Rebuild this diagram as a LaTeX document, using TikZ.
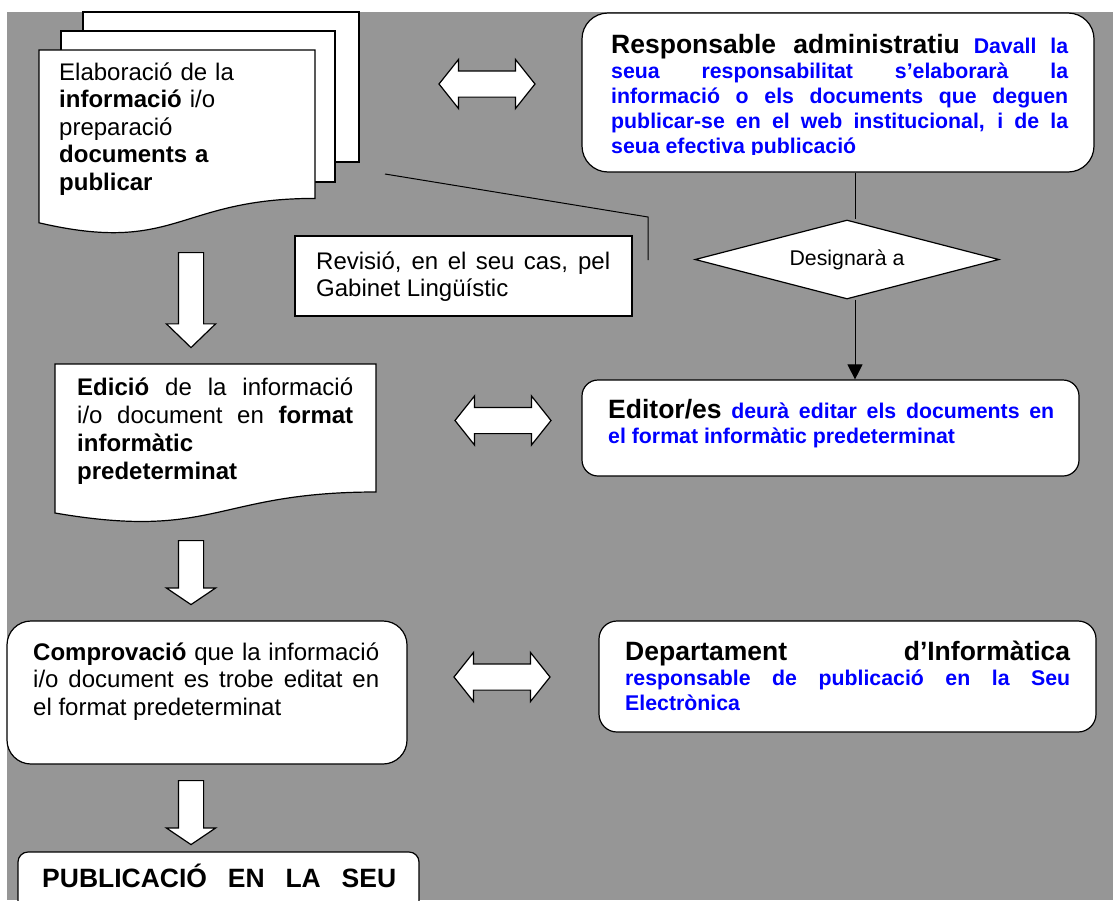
\documentclass[tikz,border=0pt]{standalone}
\usepackage{fontspec}
\setmainfont{Liberation Sans}
\usetikzlibrary{shapes.geometric,shapes.arrows,arrows.meta}
\definecolor{sheetgray}{RGB}{150,150,150}
\definecolor{noteblue}{RGB}{0,0,255}
\newcommand{\headfont}{\fontsize{26.5}{30}\selectfont\bfseries}
\newcommand{\notefont}{\bfseries\color{noteblue}}
\tolerance=10000
\hbadness=10000
\hyphenpenalty=10000
\exhyphenpenalty=10000

\begin{document}
\begin{tikzpicture}[x=1pt, y=-1pt,
    box/.style={draw, fill=white, line width=1.2pt, inner sep=0pt},
    sheet/.style={draw, fill=white, line width=1.2pt},
    link/.style={line width=1pt},
    txt/.style={anchor=base west, inner sep=0pt, align=justify, font=\fontsize{24}{27.6}\selectfont},
    notetxt/.style={txt, font=\fontsize{21.3}{25}\selectfont},
    downarrow/.style={single arrow, draw, fill=white, line width=1.2pt, rotate=-90, anchor=tail, inner sep=0pt, inner ysep=12pt, minimum width=48pt, single arrow head extend=12pt},
    twoway/.style={double arrow, draw, fill=white, line width=1.2pt, inner sep=0pt, inner ysep=12.5pt, minimum height=96pt, minimum width=48pt, double arrow head extend=11.5pt, double arrow tip angle=103},
]
    \useasboundingbox (0,0) rectangle (1113,900);
    \clip (0,0) rectangle (1113,900);
    \fill[white] (0,0) rectangle (1113,900);
    \fill[sheetgray] (7,12) rectangle (1113,900);

    % Stacked documents
    \draw[sheet] (83,12) rectangle (359,162);
    \draw[sheet] (61,31) rectangle (335,182);
    \draw[sheet] (39,50) -- (315,50) -- (315,198.4) .. controls (177,198.4) and (177,254.9) .. (39,222.8) -- cycle;
    \node[txt, text width=250pt, align=left] (elab) at (59,80) {Elaboració de la\\\textbf{informació} i/o\\preparació\\\textbf{documents a}\\\textbf{publicar}};

    \draw[sheet] (55,364) -- (376,364) -- (376,492) .. controls (215.5,492) and (215.5,540.6) .. (55,513) -- cycle;
    \node[txt, text width=276pt, font=\fontsize{24}{28.3}\selectfont] (edicio) at (77,395) {\textbf{Edició} de la informació\linebreak i/o document en \textbf{format}\linebreak \textbf{informàtic}\\\textbf{predeterminat}};

    % Boxes
    \node[box, rounded corners=26pt, minimum width=512pt, minimum height=159pt] (resp) at (838,92.5) {};
    \node[box, minimum width=337pt, minimum height=80pt] (rev) at (463.5,276) {};
    \node[box, rounded corners=16pt, minimum width=497pt, minimum height=96pt] (editor) at (830.5,428) {};
    \node[box, rounded corners=24pt, minimum width=400pt, minimum height=143pt] (comp) at (207,692.5) {};
    \node[box, rounded corners=18pt, minimum width=497pt, minimum height=111pt] (dept) at (847.5,676.5) {};
    \node[box, rounded corners=10pt, minimum width=401pt, minimum height=70pt] (publ) at (218.5,887) {};
    \node[box, diamond, aspect=3.85, minimum width=304pt, minimum height=79pt, font=\fontsize{21.3}{25}\selectfont] (desig) at (847,259.5) {Designarà a};

    % Box texts
    \begin{scope}
        \clip (582,13) rectangle (1094,154.5);
        \node[notetxt, text width=457pt] (resptxt) at (611,53) {{\headfont Responsable administratiu} {\notefont Davall la\linebreak seua responsabilitat s’elaborarà la\linebreak informació o els documents que deguen\linebreak publicar-se en el web institucional, i de la\linebreak seua efectiva publicació}};
    \end{scope}
    \node[txt, text width=294pt] (revtxt) at (316,269) {Revisió, en el seu cas, pel\linebreak Gabinet Lingüístic};
    \node[notetxt, text width=446pt] (editortxt) at (608,418) {{\headfont Editor/es} {\notefont deurà editar els documents en\linebreak el format informàtic predeterminat}};
    \node[txt, text width=346pt] (comptxt) at (33,660) {\textbf{Comprovació} que la informació\linebreak i/o document es trobe editat en\linebreak el format predeterminat};
    \node[notetxt, text width=445pt] (depttxt) at (625,660) {{\headfont Departament d’Informàtica}\linebreak{\notefont responsable de publicació en la Seu\linebreak Electrònica}};
    \node[txt, text width=354pt, font=\headfont] (publtxt) at (42,887) {PUBLICACIÓ\hfill EN\hfill LA\hfill SEU};

    % Block arrows
    \node[downarrow, minimum height=95pt, single arrow tip angle=92] (down1) at (191,252) {};
    \node[downarrow, minimum height=64pt, single arrow tip angle=112] (down2) at (191,540) {};
    \node[downarrow, minimum height=64pt, single arrow tip angle=112] (down3) at (191,780) {};
    \node[twoway] (both1) at (487,84) {};
    \node[twoway] (both2) at (503,420.5) {};
    \node[twoway] (both3) at (502,677) {};

    % Connectors
    \coordinate (revtail) at (385,174);
    \coordinate (revbend) at (648,217);
    \coordinate (revend) at (648,260);
    \draw[link] (revtail) -- (revbend) -- (revend);
    \draw[link] ([xshift=8pt]desig.north |- resp.south) -- ([xshift=8pt]desig.north);
    \draw[link, -{Triangle[length=15pt, width=15pt]}] ([xshift=8pt]desig.south) -- ([xshift=8pt]desig.south |- editor.north);
\end{tikzpicture}
\end{document}
